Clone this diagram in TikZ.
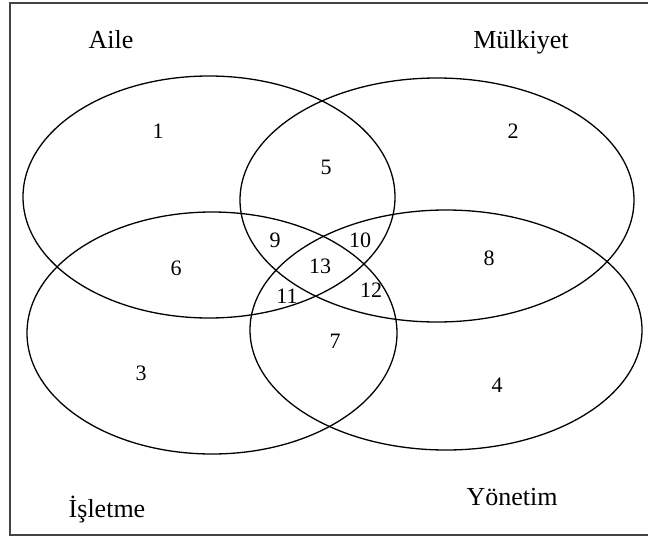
\documentclass[tikz,border=0pt]{standalone}
\usepackage{fontspec}
\setmainfont{Liberation Serif}
\usetikzlibrary{shapes.geometric}
\definecolor{cerceve}{HTML}{444444}
\tikzset{
  kume/.style={draw=black, line width=1.3pt, ellipse, inner sep=0pt},
  bolge/.style={font=\fontsize{22}{24}\selectfont},
  baslik/.style={font=\fontsize{26}{28}\selectfont, anchor=base},
}

\begin{document}
\begin{tikzpicture}[x=1pt, y=-1pt]
  \useasboundingbox (0,0) rectangle (648,541);

  % Cerceve
  \draw[cerceve, line width=2.2pt] (654,3) -- (10,3) -- (10,535) -- (654,535);

  % Kumeler
  \node[kume, minimum width=372pt, minimum height=242pt] (aile)     at (209,197) {};
  \node[kume, minimum width=394pt, minimum height=244pt] (mulkiyet) at (437,200) {};
  \node[kume, minimum width=370pt, minimum height=242pt] (isletme)  at (212,333) {};
  \node[kume, minimum width=392pt, minimum height=240pt] (yonetim)  at (446,330) {};

  % Basliklar
  \node[baslik] (tAile)     at (111,48)  {Aile};
  \node[baslik] (tMulkiyet) at (521,48)  {Mülkiyet};
  \node[baslik] (tIsletme)  at (107,517) {İşletme};
  \node[baslik] (tYonetim)  at (512,505) {Yönetim};

  % Bolgeler
  \node[bolge] (r1)  at (158,131) {1};
  \node[bolge] (r2)  at (513,131) {2};
  \node[bolge] (r3)  at (141,373) {3};
  \node[bolge] (r4)  at (497,385) {4};
  \node[bolge] (r5)  at (326,167) {5};
  \node[bolge] (r6)  at (176,268) {6};
  \node[bolge] (r7)  at (335,341) {7};
  \node[bolge] (r8)  at (489,258) {8};
  \node[bolge] (r9)  at (275,240) {9};
  \node[bolge] (r10) at (360,240) {10};
  \node[bolge] (r11) at (287,296) {11};
  \node[bolge] (r12) at (371,290) {12};
  \node[bolge] (r13) at (320,266) {13};
\end{tikzpicture}
\end{document}
